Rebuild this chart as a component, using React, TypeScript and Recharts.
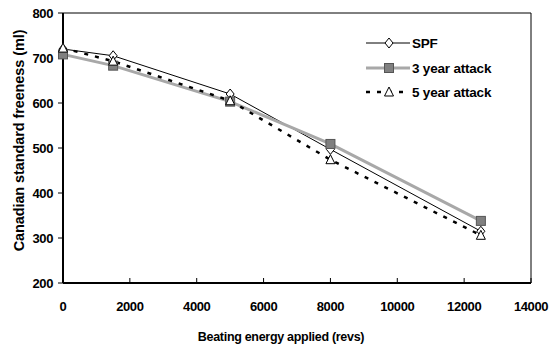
import React from "react";
import { LineChart, Line, XAxis, YAxis, ReferenceArea, Label } from "recharts";

const revs = [0, 1500, 5000, 8000, 12500];
const spf = [720, 705, 620, 497, 315];
const attack3 = [708, 683, 603, 509, 338];
const attack5 = [722, 693, 605, 474, 306];
const xTicks = [0, 2000, 4000, 6000, 8000, 10000, 12000, 14000];
const yTicks = [200, 300, 400, 500, 600, 700, 800];
const seriesNames = ["SPF", "3 year attack", "5 year attack"];

const data = revs.map((r, i) => ({ revs: r, spf: spf[i], a3: attack3[i], a5: attack5[i] }));

const FONT = "'Liberation Sans', Arial, sans-serif";

const Diamond = (p: any) => {
  const { cx, cy } = p;
  if (cx == null || cy == null) return <g key={p.key} />;
  return (
    <path key={p.key} d={`M${cx},${cy - 5} L${cx + 4},${cy} L${cx},${cy + 5} L${cx - 4},${cy} Z`} fill="#fff" stroke="#000" strokeWidth={1} />
  );
};
const Square = (p: any) => {
  const { cx, cy } = p;
  if (cx == null || cy == null) return <g key={p.key} />;
  return <rect key={p.key} x={cx - 4.5} y={cy - 4.5} width={9} height={9} fill="#808080" stroke="#555" strokeWidth={1} />;
};
const Triangle = (p: any) => {
  const { cx, cy } = p;
  if (cx == null || cy == null) return <g key={p.key} />;
  return <path key={p.key} d={`M${cx},${cy - 5} L${cx + 4.5},${cy + 4} L${cx - 4.5},${cy + 4} Z`} fill="#fff" stroke="#000" strokeWidth={1} />;
};

const XTick = (p: any) => {
  const { x, y, payload } = p;
  return (
    <g>
      <line x1={x} y1={y} x2={x} y2={y - 5} stroke="#000" strokeWidth={1} />
      <text x={x} y={y + 28} textAnchor="middle" fontFamily={FONT} fontWeight="bold" fontSize={13} letterSpacing={-0.4} fill="#000">
        {payload.value}
      </text>
    </g>
  );
};

const LegendBox = () => (
  <svg width={160} height={80} style={{ position: "absolute", left: 360, top: 30, overflow: "visible" }}>
    <g>
      <line x1={6} y1={13} x2={50} y2={13} stroke="#000" strokeWidth={1} />
      <Diamond cx={29} cy={13} />
      <text x={52} y={18} fontFamily={FONT} fontWeight="bold" fontSize={13.5} letterSpacing={-0.2} fill="#000">{seriesNames[0]}</text>
    </g>
    <g>
      <line x1={6} y1={38} x2={50} y2={38} stroke="#a8a8a8" strokeWidth={3} />
      <Square cx={29} cy={38} />
      <text x={52} y={43} fontFamily={FONT} fontWeight="bold" fontSize={13.5} letterSpacing={-0.2} fill="#000">{seriesNames[1]}</text>
    </g>
    <g>
      <line x1={6} y1={62} x2={50} y2={62} stroke="#000" strokeWidth={2.5} strokeDasharray="4 7" />
      <Triangle cx={29} cy={62} />
      <text x={52} y={67} fontFamily={FONT} fontWeight="bold" fontSize={13.5} letterSpacing={-0.2} fill="#000">{seriesNames[2]}</text>
    </g>
  </svg>
);

export default function App() {
  return (
    <div style={{ position: "absolute", left: 0, top: 0, width: 558, height: 347, background: "#fff" }}>
      <LineChart width={558} height={347} data={data} margin={{ top: 13, right: 27, bottom: 14, left: 8 }}>
        <ReferenceArea x1={0} x2={14000} y1={200} y2={800} fill="none" stroke="#000" strokeWidth={1} ifOverflow="visible" />
        <XAxis
          dataKey="revs"
          type="number"
          domain={[0, 14000]}
          ticks={xTicks}
          height={50}
          tickSize={0}
          tickMargin={0}
          tickLine={false}
          axisLine={{ stroke: "#000", strokeWidth: 2 }}
          tick={<XTick />}
          interval={0}
        >
          <Label
            content={() => (
              <text x={281} y={340.5} textAnchor="middle" fontFamily={FONT} fontWeight="bold" fontSize={12.5} letterSpacing={-0.3} fill="#000">
                Beating energy applied (revs)
              </text>
            )}
          />
        </XAxis>
        <YAxis
          type="number"
          domain={[200, 800]}
          ticks={yTicks}
          width={55}
          tickSize={5}
          tickMargin={5}
          tickLine={{ stroke: "#000", strokeWidth: 1 }}
          axisLine={{ stroke: "#000", strokeWidth: 2 }}
          tick={{ fontFamily: FONT, fontWeight: "bold", fontSize: 13, fill: "#000", letterSpacing: -0.4 }}
          interval={0}
        >
          <Label
            content={() => (
              <text x={24} y={140.5} transform="rotate(-90 24 140.5)" textAnchor="middle" fontFamily={FONT} fontWeight="bold" fontSize={14.5} letterSpacing={-0.1} fill="#000">
                Canadian standard freeness (ml)
              </text>
            )}
          />
        </YAxis>
        <Line dataKey="spf" stroke="#000" strokeWidth={1} dot={Diamond} isAnimationActive={false} />
        <Line dataKey="a3" stroke="#a8a8a8" strokeWidth={3} dot={Square} isAnimationActive={false} />
        <Line dataKey="a5" stroke="#000" strokeWidth={2.5} strokeDasharray="4 7" dot={Triangle} isAnimationActive={false} />
      </LineChart>
      <LegendBox />
    </div>
  );
}
